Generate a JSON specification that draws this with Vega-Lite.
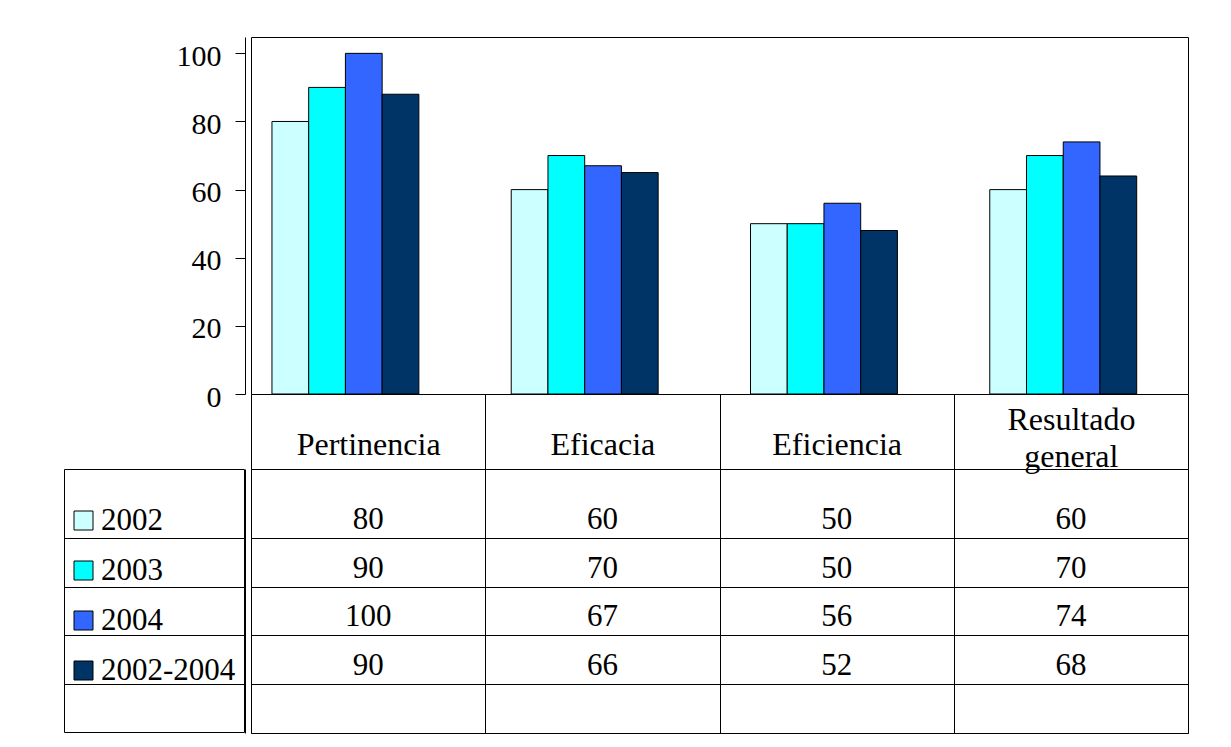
{
  "$schema": "https://vega.github.io/schema/vega-lite/v6.json",
  "padding": {"left": 63, "top": 36, "right": 44, "bottom": 15},
  "background": "#ffffff",
  "bounds": "flush",
  "spacing": 75,
  "config": {
    "font": "Liberation Serif",
    "view": {"stroke": "#000000", "strokeWidth": 1},
    "axis": {
      "labelFont": "Liberation Serif",
      "labelColor": "#000000",
      "domainColor": "#000000",
      "tickColor": "#000000",
      "gridColor": "#000000",
      "gridOpacity": 1,
      "domainWidth": 1,
      "tickWidth": 1,
      "gridWidth": 1
    }
  },
  "datasets": {
    "scores": [
      {"category": "Pertinencia", "series": "2002", "value": 80, "label": "80"},
      {"category": "Pertinencia", "series": "2003", "value": 90, "label": "90"},
      {"category": "Pertinencia", "series": "2004", "value": 100, "label": "100"},
      {"category": "Pertinencia", "series": "2002-2004", "value": 88, "label": "90"},
      {"category": "Eficacia", "series": "2002", "value": 60, "label": "60"},
      {"category": "Eficacia", "series": "2003", "value": 70, "label": "70"},
      {"category": "Eficacia", "series": "2004", "value": 67, "label": "67"},
      {"category": "Eficacia", "series": "2002-2004", "value": 65, "label": "66"},
      {"category": "Eficiencia", "series": "2002", "value": 50, "label": "50"},
      {"category": "Eficiencia", "series": "2003", "value": 50, "label": "50"},
      {"category": "Eficiencia", "series": "2004", "value": 56, "label": "56"},
      {"category": "Eficiencia", "series": "2002-2004", "value": 48, "label": "52"},
      {"category": "Resultado general", "series": "2002", "value": 60, "label": "60"},
      {"category": "Resultado general", "series": "2003", "value": 70, "label": "70"},
      {"category": "Resultado general", "series": "2004", "value": 74, "label": "74"},
      {"category": "Resultado general", "series": "2002-2004", "value": 64, "label": "68"}
    ]
  },
  "vconcat": [
    {
      "width": 937,
      "height": 357,
      "data": {"name": "scores"},
      "mark": {"type": "bar", "stroke": "#000000", "strokeWidth": 1},
      "encoding": {
        "x": {
          "field": "category",
          "type": "nominal",
          "sort": ["Pertinencia", "Eficacia", "Eficiencia", "Resultado general"],
          "scale": {"paddingInner": 0.386, "paddingOuter": 0.151, "align": 0.29},
          "axis": null
        },
        "xOffset": {
          "field": "series",
          "type": "nominal",
          "sort": ["2002", "2003", "2004", "2002-2004"],
          "scale": {"paddingInner": 0, "paddingOuter": 0}
        },
        "y": {
          "field": "value",
          "type": "quantitative",
          "scale": {"domain": [0, 104.8], "nice": false, "zero": true},
          "axis": {
            "values": [0, 20, 40, 60, 80, 100],
            "offset": 6,
            "tickSize": 10,
            "labelPadding": 14,
            "labelFontSize": 30,
            "labelOffset": 3,
            "grid": false,
            "title": null
          }
        },
        "color": {
          "field": "series",
          "type": "nominal",
          "scale": {
            "domain": ["2002", "2003", "2004", "2002-2004", " "],
            "range": ["#CCFFFF", "#00FFFF", "#3366FF", "#003366", "#FFFFFF"]
          },
          "legend": {
            "orient": "none",
            "legendX": -187,
            "legendY": 432,
            "title": " ",
            "titleFontSize": 13,
            "titlePadding": 22,
            "values": ["2002", "2003", "2004", "2002-2004", " "],
            "labelExpr": "datum.value == ' ' ? '00000000000000' : datum.label",
            "symbolType": "square",
            "symbolSize": 361,
            "symbolStrokeColor": "#000000",
            "symbolStrokeWidth": 1,
            "symbolOpacity": 1,
            "symbolOffset": 3,
            "labelFont": "Liberation Serif",
            "labelFontSize": 31,
            "labelColor": "#000000",
            "labelOffset": 2,
            "rowPadding": 18,
            "padding": 1,
            "strokeColor": "#000000",
            "encode": {
              "symbols": {
                "update": {
                  "stroke": {"signal": "datum.value == ' ' ? 'transparent' : '#000000'"}
                }
              },
              "labels": {
                "update": {
                  "fontSize": {"signal": "datum.value == ' ' ? 20.2 : 31"},
                  "fill": {"signal": "datum.value == ' ' ? 'transparent' : '#000000'"}
                }
              }
            }
          }
        }
      }
    },
    {
      "width": 937,
      "height": 264,
      "data": {"name": "scores"},
      "mark": {"type": "text", "fontSize": 31, "font": "Liberation Serif", "color": "#000000", "baseline": "middle", "dy": 6},
      "encoding": {
        "x": {
          "field": "category",
          "type": "nominal",
          "sort": ["Pertinencia", "Eficacia", "Eficiencia", "Resultado general"],
          "scale": {"type": "band", "paddingInner": 0, "paddingOuter": 0},
          "axis": {
            "orient": "top",
            "title": null,
            "tickBand": "extent",
            "tickSize": 75,
            "labelPadding": {"condition": {"test": "datum.value == 'Resultado general'", "value": -25}, "value": -50},
            "labelBaseline": "middle",
            "labelAngle": 0,
            "labelFontSize": 32,
            "labelLineHeight": 37,
            "labelExpr": "datum.label == 'Resultado general' ? ['Resultado', 'general'] : datum.label",
            "domain": false,
            "grid": true
          }
        },
        "y": {
          "field": "series",
          "type": "nominal",
          "sort": ["2002", "2003", "2004", "2002-2004"],
          "scale": {"type": "band", "paddingInner": 0, "paddingOuter": 0.716, "align": 0.3},
          "axis": {
            "title": null,
            "labels": false,
            "offset": 6,
            "tickSize": 181,
            "bandPosition": 1,
            "tickExtra": false,
            "grid": true
          }
        },
        "text": {"field": "label"}
      }
    }
  ]
}
